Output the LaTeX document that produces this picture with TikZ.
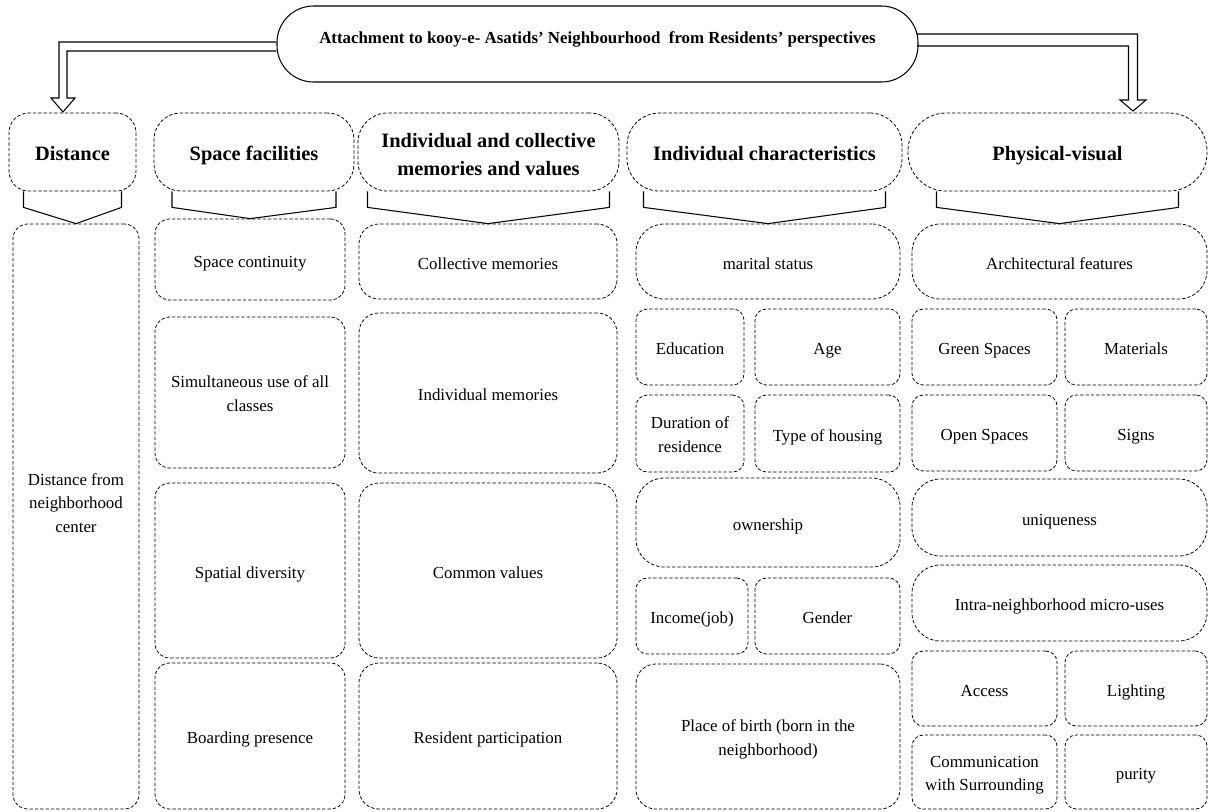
\documentclass[tikz,border=0pt]{standalone}
\usepackage{fontspec}
\setmainfont{Liberation Serif}
\usetikzlibrary{calc}

\begin{document}
\begin{tikzpicture}[x=0.025cm, y=-0.025cm,
    every node/.style={align=center, inner sep=2pt, font=\fontsize{12}{16.5}\selectfont,
        execute at begin node={\rule{0pt}{15.8pt}}, execute at end node=\strut},
    twoline/.style={execute at begin node={\rule{0pt}{31.5pt}}},
    sz/.style 2 args={minimum width=#1*0.025cm, minimum height=#2*0.025cm},
    cell/.style={draw, dash pattern=on 2.4pt off 1.4pt, line width=0.55pt, rounded corners=10.5pt},
    smallcell/.style={cell, rounded corners=8pt},
    widecell/.style={cell, rounded corners=20pt},
    memcell/.style={cell, rounded corners=14pt},
    head/.style={cell, font=\fontsize{14.5}{19.5}\selectfont\bfseries,
        execute at begin node={\rule{0pt}{17.6pt}}},
    outline/.style={line width=0.75pt, line join=miter},
]
\useasboundingbox (0,0) rectangle (1208,811);

\node[draw, outline, rounded corners=26pt, sz={641}{76}, text depth=17pt,
    font=\fontsize{12}{14}\selectfont\bfseries, execute at begin node=\strut] (title) at (597.5,44)
    {Attachment to kooy-e- Asatids’ Neighbourhood~ from Residents’ perspectives};

\node[head, sz={127}{78}, rounded corners=14pt] (distH) at (72.5,152) {Distance};
\node[head, sz={200}{78}, rounded corners=19pt] (spaceH) at (254,152) {Space facilities};
\node[head, sz={261}{78}, rounded corners=21pt, execute at begin node={\rule{0pt}{38.6pt}}] (memH)
    at (488.5,152) {Individual and collective\\memories and values};
\node[head, sz={275}{78}, rounded corners=23pt] (charH) at (764.5,152) {Individual characteristics};
\node[head, sz={299}{78}, rounded corners=27pt] (physH) at (1057.5,152) {Physical-visual};

\node[cell, sz={126}{585}, label={[yshift=7.2pt]center:{Distance from\\neighborhood\\center}}] (distC) at (76,516.5) {};

\node[cell, sz={190}{81}] (contC) at (250,259.5) {Space continuity};
\node[cell, twoline, sz={190}{151}] (simulC) at (250,392.5) {Simultaneous use of all\\classes};
\node[cell, sz={190}{175}] (diverC) at (250,570.5) {Spatial diversity};
\node[cell, sz={190}{146}] (boardC) at (250,736) {Boarding presence};

\node[memcell, sz={258}{75}] (collC) at (488,261.5) {Collective memories};
\node[memcell, sz={258}{160}] (indivC) at (488,393) {Individual memories};
\node[memcell, sz={258}{175}] (valuesC) at (488,570.5) {Common values};
\node[memcell, sz={258}{146}] (partC) at (488,736) {Resident participation};

\node[widecell, sz={264}{75}] (maritC) at (768,261.5) {marital status};
\node[smallcell, sz={108}{76}] (eduC) at (690,347) {Education};
\node[smallcell, sz={145}{76}] (ageC) at (827.5,347) {Age};
\node[smallcell, twoline, sz={108}{77}] (durC) at (690,433.5) {Duration of\\residence};
\node[smallcell, sz={145}{77}] (housC) at (827.5,433.5) {Type of housing};
\node[widecell, sz={264}{89}] (ownC) at (768,522.5) {ownership};
\node[smallcell, sz={112}{76}] (incC) at (692,616) {Income(job)};
\node[smallcell, sz={145}{76}] (gendC) at (827.5,616) {Gender};
\node[memcell, twoline, sz={264}{145}] (birthC) at (768,736.5) {Place of birth (born in the\\neighborhood)};

\node[widecell, sz={295}{75}] (archC) at (1059.5,261.5) {Architectural features};
\node[smallcell, sz={145}{76}] (greenC) at (984.5,347) {Green Spaces};
\node[smallcell, sz={142}{76}] (matC) at (1136,347) {Materials};
\node[smallcell, sz={145}{76}] (openC) at (984.5,433) {Open Spaces};
\node[smallcell, sz={142}{76}] (signC) at (1136,433) {Signs};
\node[widecell, sz={295}{77}] (uniqC) at (1059.5,517.5) {uniqueness};
\node[widecell, sz={295}{76}] (intraC) at (1059.5,603) {Intra-neighborhood micro-uses};
\node[smallcell, sz={145}{75}] (accC) at (984.5,688.5) {Access};
\node[smallcell, sz={142}{75}] (lightC) at (1136,688.5) {Lighting};
\node[smallcell, twoline, sz={145}{74}] (commC) at (984.5,772) {Communication\\with Surrounding};
\node[smallcell, sz={142}{74}] (purC) at (1136,772) {purity};

\foreach \h/\c/\w in {distH/distC/49, spaceH/contC/82, memH/collC/121, charH/maritC/121, physH/archC/121}
    \draw[outline] ($(\h.south)+(-\w,0)$) -- ++(0,16) -- (\c.north)
        -- ($(\h.south)+(\w,16)$) -- ++(0,-16);

\coordinate (ltip) at (63,112);
\coordinate (rtip) at (1133,111);
\draw[outline] ($(title.west)+(0,-2)$) -| ($(ltip)+(-4,-14)$) -- ++(-8,0) -- (ltip)
    -- ++(12,-14) -- ++(-8,0) |- ($(title.west)+(0,7)$);
\draw[outline] ($(title.east)+(-1.5,-10)$) -| ($(rtip)+(4.5,-11)$) -- ++(8.5,0) -- (rtip)
    -- ++(-13,-11) -- ++(8.5,0) |- ($(title.east)+(-1.5,2)$);
\end{tikzpicture}
\end{document}
